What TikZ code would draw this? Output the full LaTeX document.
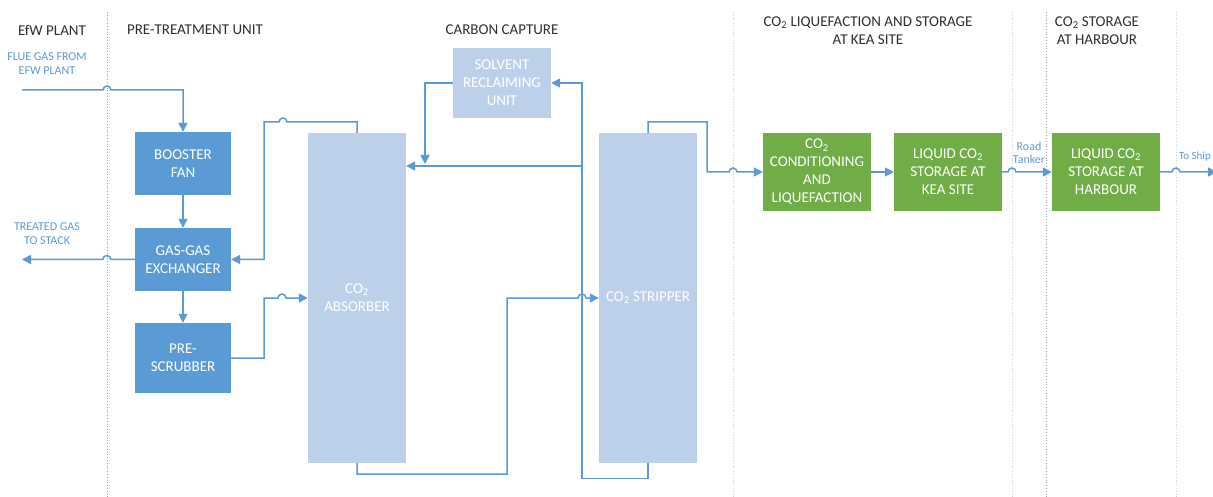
\documentclass[tikz,border=0pt]{standalone}
\usepackage{fontspec}
\setmainfont{Carlito}
\usetikzlibrary{arrows.meta}
\definecolor{dblue}{HTML}{5B9BD5}
\definecolor{lblue}{HTML}{BDD0E9}
\definecolor{dgreen}{HTML}{70AD47}
\definecolor{hdrgray}{HTML}{303030}
\definecolor{divgray}{HTML}{A0A0A0}
\tikzset{
  boxbase/.style={inner sep=2pt, align=center, text=white, font=\fontsize{15}{18}\selectfont},
  darkbox/.style={boxbase, fill=dblue, minimum width=96pt},
  lightbox/.style={boxbase, fill=lblue, minimum width=98pt},
  greenbox/.style={boxbase, fill=dgreen, minimum width=108pt, minimum height=78pt},
  hdr/.style={align=center, text=hdrgray, font=\fontsize{15}{18}\selectfont},
  lbl/.style={align=center, text=dblue, font=\fontsize{12}{14}\selectfont},
  flow/.style={draw=dblue, line width=1.5pt, -{Triangle[length=9pt,width=9pt]}},
  divider/.style={draw=divgray, line width=0.8pt, dotted},
  lightdivider/.style={draw=divgray!50, line width=0.8pt, dotted}
}
\begin{document}
\begin{tikzpicture}[x=1pt,y=-1pt]
\useasboundingbox[fill=white] (0,0) rectangle (1213,497);
% dividers
\draw[divider] (107,12) -- (107,497);
\draw[lightdivider] (733,12) -- (733,497);
\draw[lightdivider] (1012,12) -- (1012,497);
\draw[divider] (1046,12) -- (1046,497);
\draw[lightdivider] (1176,12) -- (1176,497);
% headers
\node[hdr] (h1) at (52,30) {EfW PLANT};
\node[hdr] (h2) at (195,30) {PRE-TREATMENT UNIT};
\node[hdr] (h3) at (502,30) {CARBON CAPTURE};
\node[hdr] (h4) at (868,31) {CO\textsubscript{2} LIQUEFACTION AND STORAGE\\AT KEA SITE};
\node[hdr] (h5) at (1097,31) {CO\textsubscript{2} STORAGE\\AT HARBOUR};
% labels
\node[lbl] (fg) at (47,64) {FLUE GAS FROM\\EFW PLANT};
\node[lbl] (tg) at (47,234) {TREATED GAS\\TO STACK};
\node[lbl, font=\fontsize{12}{13}\selectfont] (rt) at (1029,153) {Road\\Tanker};
\node[lbl, anchor=east, inner sep=1pt, font=\fontsize{11}{13}\selectfont] (ship) at (1212,157) {To Ship};
% boxes
\node[darkbox, minimum height=63pt] (fan) at (183,163.5) {BOOSTER\\FAN};
\node[darkbox, minimum height=63pt] (ggx) at (183,259.5) {GAS-GAS\\EXCHANGER};
\node[darkbox, minimum height=70pt] (pre) at (183,358) {PRE-\\SCRUBBER};
\node[lightbox, minimum height=330pt] (abs) at (357,298) {CO\textsubscript{2}\\ABSORBER};
\node[lightbox, minimum height=329pt] (str) at (648,298) {CO\textsubscript{2} STRIPPER};
\node[lightbox, minimum height=70pt] (sru) at (502,83) {SOLVENT\\RECLAIMING\\UNIT};
\node[greenbox] (cond) at (817,172) {CO\textsubscript{2}\\CONDITIONING\\AND\\LIQUEFACTION};
\node[greenbox] (kea) at (948,172) {LIQUID CO\textsubscript{2}\\STORAGE AT\\KEA SITE};
\node[greenbox] (hbr) at (1106,172) {LIQUID CO\textsubscript{2}\\STORAGE AT\\HARBOUR};
% free ends and junctions
\coordinate (fgin) at (22,90);
\coordinate (tgout) at (22,259.5);
\coordinate (shipout) at (1217,172);
\coordinate (j1) at (582,166);
\coordinate (j2) at (425,164);
% connectors
\draw[flow] (fgin) -- (103,90) arc[start angle=180, end angle=0, radius=4pt] -| (fan.north);
\draw[flow] (fan.south) -- (ggx.north);
\draw[flow] (ggx.south) -- (pre.north);
\draw[flow] (ggx.west) -- ++(-24,0) arc[start angle=0, end angle=180, radius=4pt] -- (tgout);
\draw[flow] (abs.north) -- ++(0,-11) -- (287,122) arc[start angle=0, end angle=180, radius=4pt] -- (264,122) |- (ggx.east);
\draw[flow] (pre.east) -| (264,298) -- (278,298) arc[start angle=180, end angle=0, radius=4pt] -- (abs.west);
\draw[flow] (abs.south) -- ++(0,11) -| (507,298) -- (578,298) arc[start angle=180, end angle=0, radius=4pt] -- (str.west);
\draw[flow] (str.south) -- ++(0,16) -| (582,83) -- (sru.east);
\draw[flow] (j1) -- (abs.east |- j1);
\draw[flow] (sru.west) -| (j2);
\draw[flow] (str.north) -- ++(0,-11.5) -| (707,172) -- (729,172) arc[start angle=180, end angle=0, radius=4pt] -- (cond.west);
\draw[flow] (cond.east) -- (kea.west);
\draw[flow] (kea.east) -- (1008,172) arc[start angle=180, end angle=0, radius=4pt] -- (hbr.west);
\draw[flow] (hbr.east) -- (1172,172) arc[start angle=180, end angle=0, radius=4pt] -- (shipout);
\end{tikzpicture}
\end{document}
